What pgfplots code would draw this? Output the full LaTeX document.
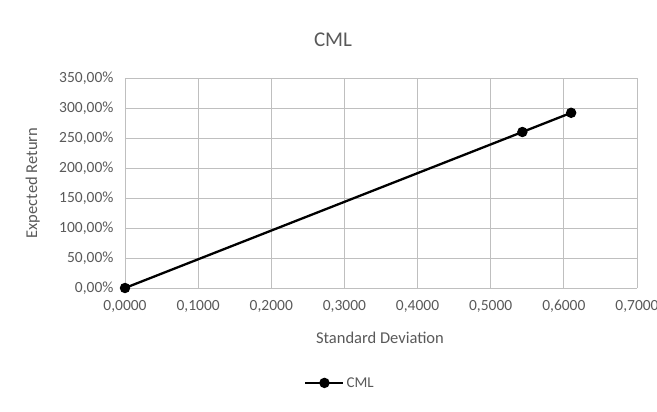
\documentclass[border=0pt]{standalone}
\usepackage{pgfplots}
\pgfplotsset{compat=1.18}
\usepackage{fontspec}
\setmainfont{Carlito}
\definecolor{txt}{RGB}{89,89,89}
\definecolor{grid}{RGB}{217,217,217}
\begin{document}
\begin{tikzpicture}
\begin{axis}[
  at={(0pt,0pt)}, anchor=origin,
  scale only axis, width=512pt, height=210pt,
  xmin=0, xmax=0.7, ymin=0, ymax=350,
  xtick={0,0.1,...,0.7}, ytick={0,50,...,350},
  grid=major, major grid style={grid, line width=0.8pt},
  axis line style={draw=none},
  tick style={draw=none},
  /pgf/number format/assume math mode=true,
  xticklabel style={yshift=-9pt, /pgf/number format/.cd, fixed, fixed zerofill, precision=4, use comma},
  yticklabel={\pgfmathprintnumber[fixed, fixed zerofill, precision=2, use comma]{\tick}\%},
  ticklabel style={text=txt, font=\fontsize{15.5}{18}\selectfont},
  yticklabel style={xshift=-8pt},
  xlabel={Standard Deviation}, ylabel={Expected Return},
  xlabel style={at={(axis description cs:0.498,-0.238)}, anchor=center, text=txt, font=\fontsize{16.5}{19}\selectfont},
  ylabel style={at={(axis description cs:-0.18,0.5)}, anchor=center, text=txt, font=\fontsize{16.5}{19}\selectfont},
  legend style={at={(axis description cs:0.42,-0.452)}, anchor=center, draw=none,
    font=\fontsize{15}{18}\selectfont, text=txt},
  legend image code/.code={\draw[mark repeat=2, mark phase=2, #1] plot coordinates {(0pt,0pt) (19pt,0pt) (38pt,0pt)};},
  legend cell align=left,
  clip=false,
]
\addplot[black, line width=2.3pt, mark=*, mark size=4pt] coordinates {
  (0,0) (0.5433,260) (0.6100,292)
};
\addlegendentry{CML}
\end{axis}
\pgfresetboundingbox
\useasboundingbox (-125pt,-124pt) rectangle (532pt,288pt);
\node[text=txt,font=\fontsize{21}{25}\selectfont] at (208pt,248pt) {CML};
\end{tikzpicture}
\end{document}
